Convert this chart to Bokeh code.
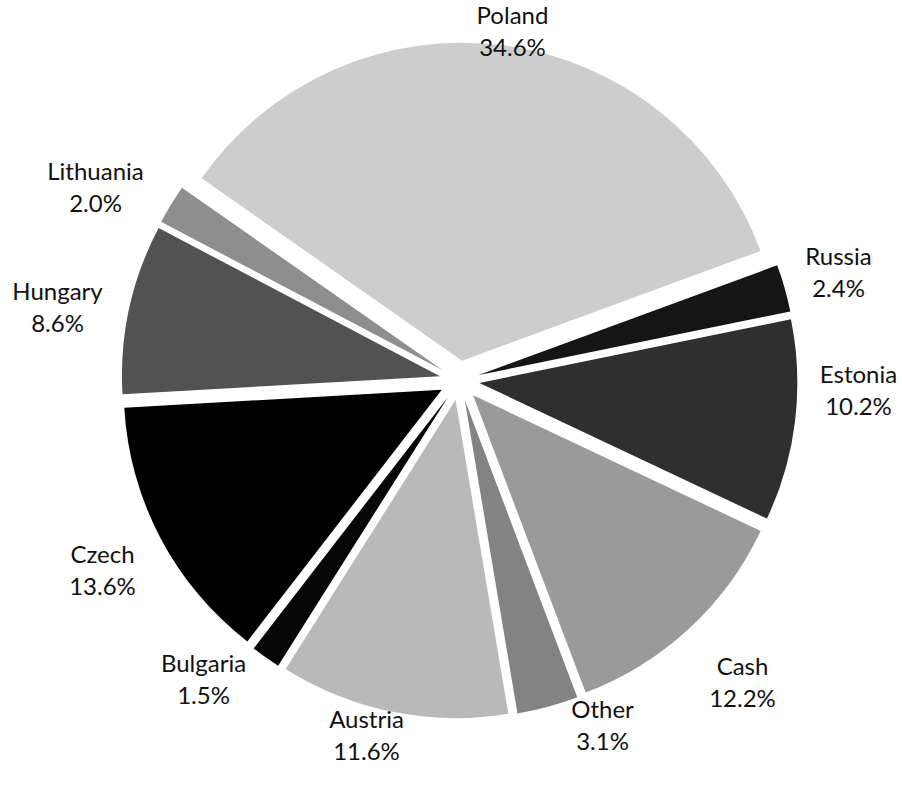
import math
from bokeh.plotting import figure
from bokeh.models import Range1d, ColumnDataSource
from bokeh.core.properties import value
from bokeh.embed import file_html
from bokeh.resources import INLINE

# ---- data (clockwise order, starting with Poland) ----
names = ["Poland", "Russia", "Estonia", "Cash", "Other", "Austria",
         "Bulgaria", "Czech", "Hungary", "Lithuania"]
shares = [34.6, 2.4, 10.2, 12.2, 3.1, 11.6, 1.5, 13.6, 8.6, 2.0]
pct_labels = ["34.6%", "2.4%", "10.2%", "12.2%", "3.1%", "11.6%",
              "1.5%", "13.6%", "8.6%", "2.0%"]

# ---- styles / layout ----
colors = ["#cdcdcd", "#151515", "#2f2f2f", "#9a9a9a", "#838383", "#b9b9b9",
          "#060606", "#000000", "#525252", "#8e8e8e"]
W, H = 902, 789
CX, CY = 459, H - 380          # pie centre (y measured upward)
R = 318                         # radius
EXPLODE = 20                    # slice separation
FIRST_ANGLE = 305.0             # degrees clockwise from 12 o'clock
label_pos = [(512, 14), (838, 255), (858, 373), (742, 665), (602, 708),
             (366, 718), (203, 662), (102, 553), (57, 290), (95, 170)]
LINE_GAP = 32

total = sum(shares)
starts, ends, xs, ys = [], [], [], []
acc = FIRST_ANGLE
for s in shares:
    a0 = acc
    a1 = acc + 360.0 * s / total
    mid = math.radians((a0 + a1) / 2.0)
    xs.append(CX + EXPLODE * math.sin(mid))
    ys.append(CY + EXPLODE * math.cos(mid))
    # bokeh: counter-clockwise from +x axis
    starts.append(math.radians(90.0 - a0))
    ends.append(math.radians(90.0 - a1))
    acc = a1

src = ColumnDataSource(dict(x=xs, y=ys, start=starts, end=ends, color=colors,
                            name=names, pct=pct_labels))

p = figure(width=W, height=H, x_range=Range1d(0, W), y_range=Range1d(0, H),
           x_axis_type=None, y_axis_type=None, toolbar_location=None,
           output_backend="svg", min_border=0)
p.grid.visible = False
p.outline_line_color = None
p.background_fill_color = "white"
p.border_fill_color = "white"

p.wedge(x="x", y="y", radius=R, start_angle="start", end_angle="end",
        direction="clock", fill_color="color", line_color=None, source=src)

lsrc = ColumnDataSource(dict(
    x=[lp[0] for lp in label_pos],
    y1=[H - lp[1] for lp in label_pos],
    y2=[H - lp[1] - LINE_GAP for lp in label_pos],
    name=names, pct=pct_labels))

for col, ycol in (("name", "y1"), ("pct", "y2")):
    p.text(x="x", y=ycol, text=col, source=lsrc, text_align="center",
           text_baseline="middle", text_font=value("Lato"),
           text_font_size="24px", text_color="#111111")

open("out.html", "w").write(file_html(p, INLINE))
